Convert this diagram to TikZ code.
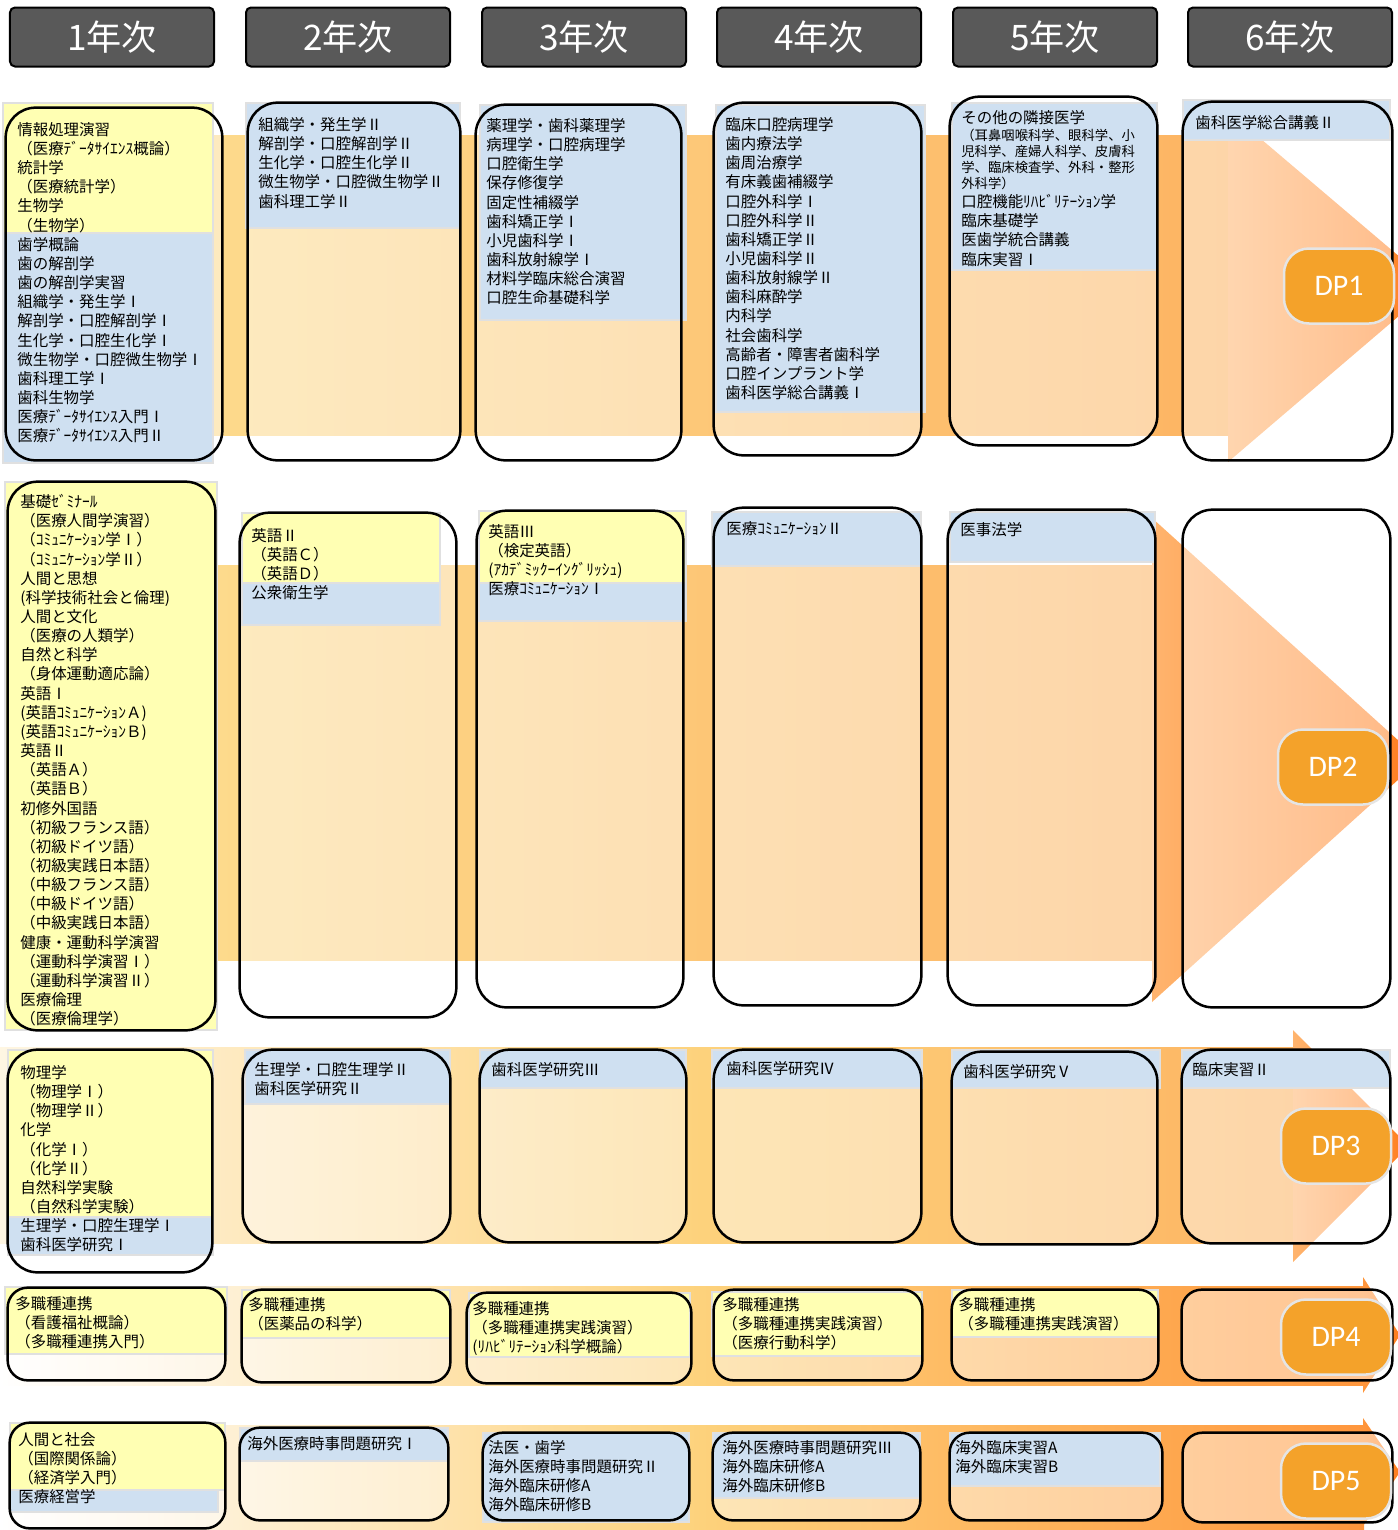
\documentclass[tikz,border=0pt]{standalone}
\usepackage{fontspec}
\newfontfamily\jp{Noto Sans CJK JP}
\newfontfamily\dpfont{Carlito}
\usetikzlibrary{fit}

\definecolor{subjyel}{RGB}{255,255,179}
\definecolor{subjblu}{RGB}{207,224,241}
\definecolor{bandlt}{RGB}{253,218,140}
\definecolor{bandmid}{RGB}{253,210,124}
\definecolor{banddk}{RGB}{253,180,98}
\definecolor{bandor}{RGB}{255,150,60}
\definecolor{headlt}{RGB}{255,180,110}
\definecolor{headdk}{RGB}{255,125,30}
\definecolor{dporange}{RGB}{244,162,42}
\definecolor{yeargray}{RGB}{89,89,89}

\tikzset{
  yearbox/.style={draw=black, line width=0.4mm, fill=yeargray, rounded corners=1mm,
    minimum width=40.8mm, minimum height=11.8mm, text=white, font=\jp\fontsize{20}{24}\selectfont},
  boxfill/.style={fill=white, fill opacity=0.45, inner sep=0pt, rounded corners=6mm},
  boxline/.style={draw=black, line width=0.5mm, inner sep=0pt, rounded corners=6mm},
  yelarea/.style={fill=subjyel, draw=black!12, line width=0.3mm},
  bluarea/.style={fill=subjblu, draw=black!12, line width=0.3mm},
  subj/.style={anchor=north west, inner sep=0pt, align=left, font=\jp\fontsize{8.8}{10.9}\selectfont},
  subjsmall/.style={subj, font=\jp\fontsize{7.6}{9.1}\selectfont},
  dpnode/.style={draw=black!10, line width=0.5mm, fill=dporange, rounded corners=5mm,
    minimum width=22mm, minimum height=15mm, text=white, font=\dpfont\fontsize{17}{20}\selectfont},
}

\begin{document}
\begin{tikzpicture}[x=0.2mm, y=-0.2mm]
\useasboundingbox (0,0) rectangle (1397,1530);

\foreach \i/\xc in {1/112, 2/348, 3/584, 4/819, 5/1055, 6/1290}
  \node[yearbox] (year\i) at (\xc,37) {\i 年次};

\shade[left color=bandlt, right color=banddk] (213,135) rectangle (1229,435);
\shade[left color=headlt, right color=headdk] (1228,111) -- (1434,286) -- (1228,462) -- cycle;
\shade[left color=bandlt, right color=banddk] (215,565) rectangle (1153,960);
\shade[left color=headlt, right color=headdk] (1152,518) -- (1420,760) -- (1152,1002) -- cycle;
\shade[left color=white!75!bandlt, right color=bandmid] (0,1047) rectangle (701,1243);
\shade[left color=bandmid, right color=banddk] (700,1047) rectangle (1294,1243);
\shade[left color=headlt, right color=headdk] (1293,1030) -- (1409,1146) -- (1293,1262) -- cycle;
\shade[left color=white, right color=bandmid] (0,1286) rectangle (701,1385);
\shade[left color=bandmid, right color=bandor] (700,1286) rectangle (1364,1385);
\shade[left color=bandor, right color=headdk] (1363,1277) -- (1400,1335) -- (1363,1393) -- cycle;
\shade[left color=white, right color=bandmid] (0,1425) rectangle (701,1530);
\shade[left color=bandmid, right color=bandor] (700,1425) rectangle (1364,1530);
\shade[left color=bandor, right color=headdk] (1363,1418) -- (1400,1472) -- (1363,1526) -- cycle;

\foreach \n/\xa/\ya/\xb/\yb in {r1c1/6/108/222/460, r1c2/248/103/460/460, r1c3/476/105/681/460,
    r1c4/714/103/921/455, r1c5/950/97/1157/445, r1c6/1183/102/1392/460,
    r2c1/8/482/215/1030, r2c2/240/513/456/1017, r2c3/477/511/683/1007,
    r2c4/714/508/921/1005, r2c5/948/510/1155/1005, r2c6/1183/510/1390/1007,
    r3c1/8/1050/212/1272, r3c2/243/1050/450/1242, r3c3/480/1050/686/1242,
    r3c4/714/1050/921/1242, r3c5/952/1052/1157/1244, r3c6/1182/1050/1390/1243}
  \node[boxfill, fit={(\xa,\ya) (\xb,\yb)}] (\n) {};
\foreach \n/\xa/\ya/\xb/\yb in {r4c1/8/1288/225/1380, r4c2/242/1290/450/1382, r4c3/467/1293/691/1383,
    r4c4/714/1290/922/1380, r4c5/952/1290/1158/1380, r4c6/1182/1290/1392/1380,
    r5c1/10/1423/225/1528, r5c2/240/1428/448/1520, r5c3/483/1433/689/1520,
    r5c4/713/1433/920/1520, r5c5/950/1433/1162/1520, r5c6/1183/1433/1392/1522}
  \node[boxfill, rounded corners=4mm, fit={(\xa,\ya) (\xb,\yb)}] (\n) {};

\foreach \xa/\ya/\xb/\yb in {3/103/213/233, 5/482/217/1030, 242/513/440/583, 479/511/686/583,
    8/1050/213/1217, 5/1287/227/1354, 242/1290/450/1338, 469/1293/690/1357,
    712/1292/922/1356, 952/1290/1158/1337, 10/1423/225/1490}
  \draw[yelarea] (\xa,\ya) rectangle (\xb,\yb);
\foreach \xa/\ya/\xb/\yb in {3/233/213/463, 246/103/460/228, 480/105/686/320, 716/105/925/412,
    952/103/1157/270, 1183/100/1390/140, 242/583/440/625, 479/583/686/621,
    712/512/921/566, 950/512/1155/562, 8/1217/213/1255, 245/1050/450/1104,
    480/1050/686/1088, 712/1050/922/1088, 952/1050/1160/1088, 1182/1050/1390/1088,
    10/1490/218/1512, 240/1428/448/1461, 483/1433/689/1522, 713/1433/920/1498,
    950/1433/1160/1486}
  \draw[bluarea] (\xa,\ya) rectangle (\xb,\yb);

\foreach \n in {r1c1, r1c2, r1c3, r1c4, r1c5, r1c6, r2c1, r2c2, r2c3, r2c4, r2c5, r2c6,
    r3c1, r3c2, r3c3, r3c4, r3c5, r3c6}
  \node[boxline, fit=(\n)] (\n-l) {};
\foreach \n in {r4c1, r4c2, r4c3, r4c4, r4c5, r4c6, r5c1, r5c2, r5c3, r5c4, r5c5, r5c6}
  \node[boxline, rounded corners=4mm, fit=(\n)] (\n-l) {};

\node[subj] (t11) at (17,122) {情報処理演習\\（医療ﾃﾞｰﾀｻｲｴﾝｽ概論）\\統計学\\（医療統計学）\\生物学\\（生物学）\\歯学概論\\歯の解剖学\\歯の解剖学実習\\組織学・発生学Ⅰ\\解剖学・口腔解剖学Ⅰ\\生化学・口腔生化学Ⅰ\\微生物学・口腔微生物学Ⅰ\\歯科理工学Ⅰ\\歯科生物学\\医療ﾃﾞｰﾀｻｲｴﾝｽ入門Ⅰ\\医療ﾃﾞｰﾀｻｲｴﾝｽ入門Ⅱ};
\node[subj] (t12) at (258,117) {組織学・発生学Ⅱ\\解剖学・口腔解剖学Ⅱ\\生化学・口腔生化学Ⅱ\\微生物学・口腔微生物学Ⅱ\\歯科理工学Ⅱ};
\node[subj] (t13) at (486,118) {薬理学・歯科薬理学\\病理学・口腔病理学\\口腔衛生学\\保存修復学\\固定性補綴学\\歯科矯正学Ⅰ\\小児歯科学Ⅰ\\歯科放射線学Ⅰ\\材料学臨床総合演習\\口腔生命基礎科学};
\node[subj] (t14) at (725,117) {臨床口腔病理学\\歯内療法学\\歯周治療学\\有床義歯補綴学\\口腔外科学Ⅰ\\口腔外科学Ⅱ\\歯科矯正学Ⅱ\\小児歯科学Ⅱ\\歯科放射線学Ⅱ\\歯科麻酔学\\内科学\\社会歯科学\\高齢者・障害者歯科学\\口腔インプラント学\\歯科医学総合講義Ⅰ};
\node[subj] (t15) at (961,110) {その他の隣接医学};
\node[subjsmall] (t15b) at (961,129) {（耳鼻咽喉科学、眼科学、小\\児科学、産婦人科学、皮膚科\\学、臨床検査学、外科・整形\\外科学）};
\node[subj] (t15c) at (961,194) {口腔機能ﾘﾊﾋﾞﾘﾃｰｼｮﾝ学\\臨床基礎学\\医歯学統合講義\\臨床実習Ⅰ};
\node[subj] (t16) at (1195,115) {歯科医学総合講義Ⅱ};

\node[subj] (t21) at (20,494) {基礎ｾﾞﾐﾅｰﾙ\\（医療人間学演習）\\（ｺﾐｭﾆｹｰｼｮﾝ学Ⅰ）\\（ｺﾐｭﾆｹｰｼｮﾝ学Ⅱ）\\人間と思想\\(科学技術社会と倫理)\\人間と文化\\（医療の人類学）\\自然と科学\\（身体運動適応論）\\英語Ⅰ\\(英語ｺﾐｭﾆｹｰｼｮﾝＡ)\\(英語ｺﾐｭﾆｹｰｼｮﾝＢ)\\英語Ⅱ\\（英語Ａ）\\（英語Ｂ）\\初修外国語\\（初級フランス語）\\（初級ドイツ語）\\（初級実践日本語）\\（中級フランス語）\\（中級ドイツ語）\\（中級実践日本語）\\健康・運動科学演習\\（運動科学演習Ⅰ）\\（運動科学演習Ⅱ）\\医療倫理\\（医療倫理学）};
\node[subj] (t22) at (251,528) {英語Ⅱ\\（英語Ｃ）\\（英語Ｄ）\\公衆衛生学};
\node[subj] (t23) at (488,524) {英語Ⅲ\\（検定英語）\\(ｱｶﾃﾞﾐｯｸｰｲﾝｸﾞﾘｯｼｭ)\\医療ｺﾐｭﾆｹｰｼｮﾝⅠ};
\node[subj] (t24) at (726,521) {医療ｺﾐｭﾆｹｰｼｮﾝⅡ};
\node[subj] (t25) at (960,522) {医事法学};

\node[subj] (t31) at (20,1065) {物理学\\（物理学Ⅰ）\\（物理学Ⅱ）\\化学\\（化学Ⅰ）\\（化学Ⅱ）\\自然科学実験\\（自然科学実験）\\生理学・口腔生理学Ⅰ\\歯科医学研究Ⅰ};
\node[subj] (t32) at (254,1062) {生理学・口腔生理学Ⅱ\\歯科医学研究Ⅱ};
\node[subj] (t33) at (491,1062) {歯科医学研究Ⅲ};
\node[subj] (t34) at (726,1061) {歯科医学研究Ⅳ};
\node[subj] (t35) at (963,1064) {歯科医学研究Ⅴ};
\node[subj] (t36) at (1192,1062) {臨床実習Ⅱ};

\node[subj] (t41) at (15,1296) {多職種連携\\（看護福祉概論）\\（多職種連携入門）};
\node[subj] (t42) at (248,1297) {多職種連携\\（医薬品の科学）};
\node[subj] (t43) at (472,1301) {多職種連携\\（多職種連携実践演習）\\(ﾘﾊﾋﾞﾘﾃｰｼｮﾝ科学概論）};
\node[subj] (t44) at (722,1297) {多職種連携\\（多職種連携実践演習）\\（医療行動科学）};
\node[subj] (t45) at (958,1297) {多職種連携\\（多職種連携実践演習）};

\node[subj] (t51) at (18,1432) {人間と社会\\（国際関係論）\\（経済学入門）\\医療経営学};
\node[subj] (t52) at (247,1436) {海外医療時事問題研究Ⅰ};
\node[subj] (t53) at (488,1440) {法医・歯学\\海外医療時事問題研究Ⅱ\\海外臨床研修A\\海外臨床研修B};
\node[subj] (t54) at (722,1440) {海外医療時事問題研究Ⅲ\\海外臨床研修A\\海外臨床研修B};
\node[subj] (t55) at (955,1440) {海外臨床実習A\\海外臨床実習B};

\node[dpnode] (dp1) at (1339,286) {DP1};
\node[dpnode] (dp2) at (1333,767) {DP2};
\node[dpnode] (dp3) at (1336,1146) {DP3};
\node[dpnode] (dp4) at (1336,1337) {DP4};
\node[dpnode] (dp5) at (1336,1481) {DP5};
\end{tikzpicture}
\end{document}
